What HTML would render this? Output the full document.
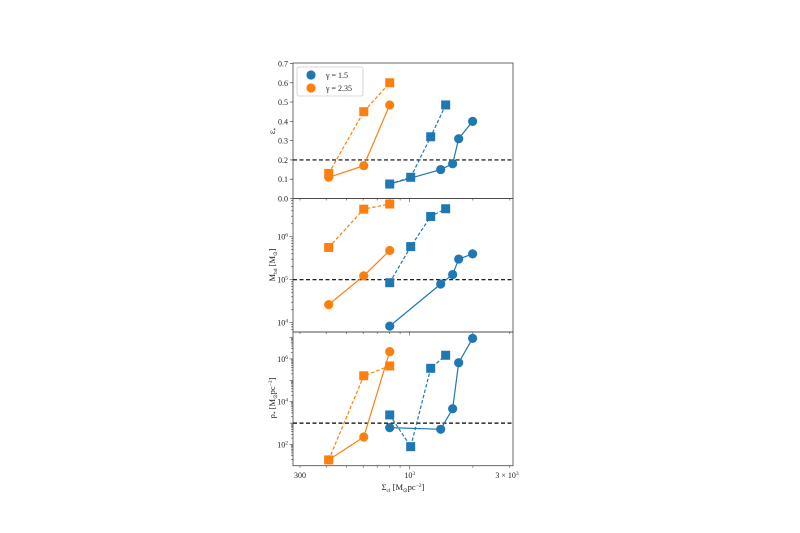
<!DOCTYPE html>
<html><head><meta charset="utf-8"><style>
html,body{margin:0;padding:0;background:#fff;width:800px;height:533px;overflow:hidden}
text{font-family:"Liberation Serif",serif;fill:#222}
</style></head><body>
<svg id="chart" width="800" height="533" viewBox="0 0 800 533" xmlns="http://www.w3.org/2000/svg"></svg>
<script>
// x categories (Sigma_cl values)
const xOrange = [411, 604, 803];
const xBlueC = [803, 1405, 1602, 1712, 1995];
const xBlueS = [803, 1011, 1259, 1484];
// epsilon
const epsBlueC = [0.075, 0.15, 0.18, 0.31, 0.40];
const epsBlueS = [0.075, 0.11, 0.32, 0.485];
const epsOrgC = [0.11, 0.17, 0.485];
const epsOrgS = [0.13, 0.45, 0.60];
// M_bd (log10)
const mBlueC = [3.92, 4.9, 5.12, 5.48, 5.6];
const mBlueS = [4.93, 5.77, 6.47, 6.65];
const mOrgC = [4.42, 5.09, 5.68];
const mOrgS = [5.75, 6.64, 6.76];
// rho (log10)
const rBlueC = [2.79, 2.71, 3.67, 5.82, 6.96];
const rBlueS = [3.38, 1.9, 5.56, 6.17];
const rOrgC = [1.28, 2.35, 6.34];
const rOrgS = [1.28, 5.21, 5.67];
const epsTicks = ["0.0","0.1","0.2","0.3","0.4","0.5","0.6","0.7"];

const NS="http://www.w3.org/2000/svg";
const svg=document.getElementById('chart');
const BLUE="#1f77b4", ORG="#ff7f0e";
const L=293,R=513;
const X=v=>409.7+209.8*Math.log10(v/1000);
function el(tag,attrs,parent){const e=document.createElementNS(NS,tag);for(const k in attrs)e.setAttribute(k,attrs[k]);(parent||svg).appendChild(e);return e;}
function txt(s,x,y,anchor,size,parent){const t=el('text',{x:x,y:y,'text-anchor':anchor||'middle','font-size':size||8},parent);t.innerHTML=s;return t;}

const panels=[
 {name:'epsilon-panel',top:63,bot:198.5,Y:v=>198.5-v*192.9,log:false,
  sets:[[xBlueC,epsBlueC,BLUE,'c','solid'],[xBlueS,epsBlueS,BLUE,'s','dash'],[xOrange,epsOrgC,ORG,'c','solid'],[xOrange,epsOrgS,ORG,'s','dash']],ref:0.2},
 {name:'mass-panel',top:198.5,bot:332,Y:v=>279.7-43*(v-5),log:true,
  sets:[[xBlueC,mBlueC,BLUE,'c','solid'],[xBlueS,mBlueS,BLUE,'s','dash'],[xOrange,mOrgC,ORG,'c','solid'],[xOrange,mOrgS,ORG,'s','dash']],ref:5,ticks:[4,5,6],minMaj:3,maxMaj:7},
 {name:'density-panel',top:332,bot:465.7,Y:v=>401.7-21.4*(v-4),log:true,
  sets:[[xBlueC,rBlueC,BLUE,'c','solid'],[xBlueS,rBlueS,BLUE,'s','dash'],[xOrange,rOrgC,ORG,'c','solid'],[xOrange,rOrgS,ORG,'s','dash']],ref:3,ticks:[2,4,6],minMaj:0,maxMaj:8}
];

panels.forEach((p,pi)=>{
  const g=el('g',{});
  
  
  const frame=el('rect',{x:L,y:p.top,width:R-L,height:p.bot-p.top,fill:'none',stroke:'#444','stroke-width':0.8},g);
  
  
  // y ticks
  if(!p.log){
    epsTicks.forEach(s=>{const v=parseFloat(s);const y=p.Y(v);
      el('line',{x1:L-3,x2:L,y1:y,y2:y,stroke:'#444','stroke-width':0.7},g);
      const t=txt(s,L-5,y+3,'end',8,g);
      
      });
  } else {
    for(let d=p.minMaj;d<=p.maxMaj;d++){
      for(let m=1;m<10;m++){const v=d+Math.log10(m);const y=p.Y(v);
        if(y<p.top||y>p.bot)continue;
        el('line',{x1:L-(m==1?3.5:2),x2:L,y1:y,y2:y,stroke:'#444','stroke-width':0.6},g);}
    }
    p.ticks.forEach(d=>{const y=p.Y(d);
      const t=txt('10<tspan dy="-3" font-size="5.5">'+d+'</tspan>',L-5,y+3,'end',8,g);
      
      });
  }
  // x ticks on each panel bottom
  for(let d=2;d<=3;d++)for(let m=1;m<10;m++){const v=Math.pow(10,d)*m;const x=X(v);if(x<L||x>R)continue;
    el('line',{x1:x,x2:x,y1:p.bot,y2:p.bot+((v==1000)?3.5:2),stroke:'#444','stroke-width':0.6},g);}
  // reference line
  const ry=p.Y(p.ref);
  const rl=el('line',{x1:L,x2:R,y1:ry,y2:ry,stroke:'#000','stroke-width':1.2,'stroke-dasharray':'4,2.5'},g);
  
  
  // series
  p.sets.forEach(([xs,ys,col,mk,ls])=>{
    const pts=xs.map((x,i)=>X(x)+','+p.Y(ys[i])).join(' ');
    const pl=el('polyline',{points:pts,fill:'none',stroke:col,'stroke-width':1.2,'stroke-dasharray':ls=='dash'?'3.5,2':'none'},g);
    
    
    xs.forEach((x,i)=>{const cx=X(x),cy=p.Y(ys[i]);let m;
      if(mk=='c')m=el('circle',{cx:cx,cy:cy,r:4.6,fill:col},g);
      else m=el('rect',{x:cx-4.5,y:cy-4.5,width:9,height:9,fill:col},g);
      
      });
  });
});

// y axis titles
let t;
t=txt('ε<tspan font-size="5" dy="2">*</tspan>',0,0,'middle',9);t.setAttribute('transform','translate(275,131) rotate(-90)');

t=txt('M<tspan font-size="5.5" dy="2">bd</tspan><tspan dy="-2"> [M</tspan><tspan font-size="5.5" dy="2">⊙</tspan><tspan dy="-2">]</tspan>',0,0,'middle',8.5);t.setAttribute('transform','translate(275,265) rotate(-90)');

t=txt('ρ<tspan font-size="5.5" dy="2">*</tspan><tspan dy="-2"> [M</tspan><tspan font-size="5.5" dy="2">⊙</tspan><tspan dy="-2">pc</tspan><tspan font-size="5.5" dy="-3">−3</tspan><tspan dy="3">]</tspan>',0,0,'middle',8.5);t.setAttribute('transform','translate(275,398) rotate(-90)');


// x tick labels
t=txt('300',X(300),478,'middle',8);
t=txt('10<tspan dy="-3" font-size="5.5">3</tspan>',X(1000),478,'middle',8);
t=txt('3 × 10<tspan dy="-3" font-size="5.5">3</tspan>',507,478,'middle',8);
t=txt('Σ<tspan font-size="5.5" dy="2">cl</tspan><tspan dy="-2"> [M</tspan><tspan font-size="5.5" dy="2">⊙</tspan><tspan dy="-2">pc</tspan><tspan font-size="5.5" dy="-3">−2</tspan><tspan dy="3">]</tspan>',403,490,'middle',8.5);


// legend
const lg=el('g',{});


el('rect',{x:297,y:67,width:66,height:29,rx:2,fill:'#fff','fill-opacity':0.85,stroke:'#ccc','stroke-width':0.8},lg);
let c=el('circle',{cx:311,cy:75,r:4.6,fill:BLUE},lg);

t=txt('γ = 1.5',326,78,'start',8,lg);
c=el('circle',{cx:311,cy:88,r:4.6,fill:ORG},lg);

t=txt('γ = 2.35',326,91,'start',8,lg);
</script>
</body></html>
